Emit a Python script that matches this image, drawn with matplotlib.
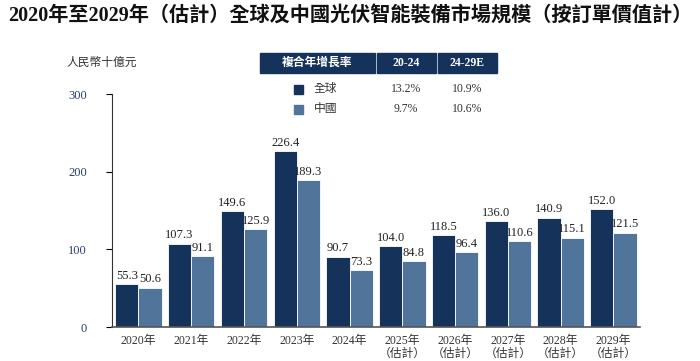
import numpy as np
import matplotlib.pyplot as plt
from matplotlib.patches import Rectangle

plt.rcParams['font.family'] = ['Liberation Serif', 'Noto Sans CJK TC']

years = ["2020年", "2021年", "2022年", "2023年", "2024年",
         "2025年\n（估計）", "2026年\n（估計）", "2027年\n（估計）", "2028年\n（估計）", "2029年\n（估計）"]
global_vals = [55.3, 107.3, 149.6, 226.4, 90.7, 104.0, 118.5, 136.0, 140.9, 152.0]
china_vals = [50.6, 91.1, 125.9, 189.3, 73.3, 84.8, 96.4, 110.6, 115.1, 121.5]

series_names = ["全球", "中國"]
cagr_cols = ["複合年增長率", "20-24", "24-29E"]
cagr_2024 = ["13.2%", "9.7%"]
cagr_2029 = ["10.9%", "10.6%"]

dark = "#15325a"
light = "#50749a"

fig = plt.figure(figsize=(7, 3.61), dpi=100)
ax = fig.add_axes([0.16, 0.094, 0.754, 0.6456])

x = np.arange(len(years))
w = 0.44
b1 = ax.bar(x - w/2, global_vals, w, color=dark, edgecolor="white", linewidth=0.6)
b2 = ax.bar(x + w/2, china_vals, w, color=light, edgecolor="white", linewidth=0.6)
for bars, vals in [(b1, global_vals), (b2, china_vals)]:
    for r, v in zip(bars, vals):
        ax.text(r.get_x() + r.get_width()/2, v + 3, f"{v:.1f}", ha="center", va="bottom",
                fontsize=9, color="#222222")

ax.set_xlim(-0.5, 9.5)
ax.set_ylim(0, 300)
ax.set_yticks([0, 100, 200, 300])
ax.set_xticks(x)
ax.set_xticklabels(years, fontsize=8.5, color="#333333", linespacing=1.0)
ax.tick_params(axis="x", length=0, pad=6)
ax.tick_params(axis="y", direction="out", length=4, labelsize=9, labelcolor="#2a3f6a", pad=14)
for s in ["top", "right"]:
    ax.spines[s].set_visible(False)
ax.spines["left"].set_color("#333333")
ax.spines["bottom"].set_color("#555555")
ax.spines["bottom"].set_linewidth(1.2)

fig.text(0.5, 0.955, "2020年至2029年（估計）全球及中國光伏智能裝備市場規模（按訂單價值計）",
         ha="center", va="center", fontsize=14.5, fontweight="bold", color="#111111")
fig.text(0.095, 0.825, "人民幣十億元", ha="left", va="center", fontsize=8.5, color="#333333")

# CAGR table
W, H = 700, 361
cells = [(260, 375), (377, 436), (438, 497)]
for (x0, x1), lab in zip(cells, cagr_cols):
    fig.patches.append(Rectangle((x0/W, 1 - 73/H), (x1 - x0)/W, 20/H,
                                 transform=fig.transFigure, color=dark))
    fig.text((x0 + x1)/2/W, 1 - 63/H, lab, ha="center", va="center", fontsize=8.5,
             fontweight="bold", color="white")
for i, (name, c) in enumerate(zip(series_names, [dark, light])):
    yy = 1 - (89 + i*20)/H
    fig.patches.append(Rectangle((294/W, yy - 4.5/H), 9/W, 9/H,
                                 transform=fig.transFigure, color=c))
    fig.text(314/W, yy, name, ha="left", va="center", fontsize=8.5, color="#333333")
    fig.text(406/W, yy, cagr_2024[i], ha="center", va="center", fontsize=8.5, color="#333333")
    fig.text(467/W, yy, cagr_2029[i], ha="center", va="center", fontsize=8.5, color="#333333")

fig.savefig("out.png")
